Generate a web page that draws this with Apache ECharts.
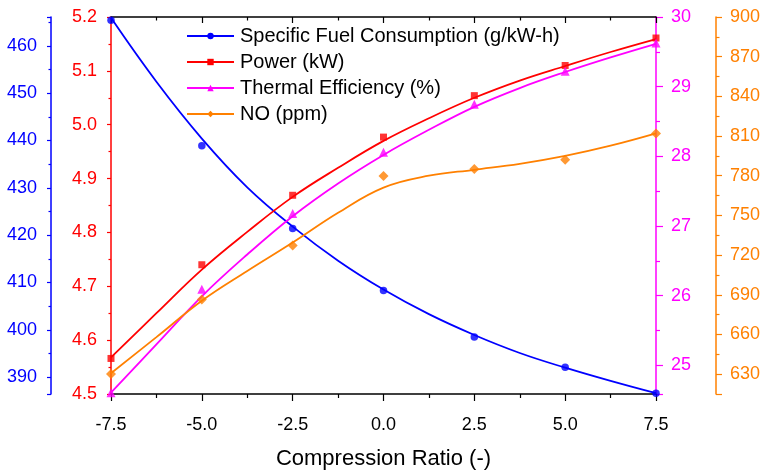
<!DOCTYPE html>
<html>
<head>
<meta charset="utf-8">
<script src="https://cdn.jsdelivr.net/npm/echarts@6/dist/echarts.min.js"></script>
<style>
  html, body { margin: 0; padding: 0; background: #fff; }
  #chart { width: 764px; height: 475px; }
</style>
</head>
<body>
<div id="chart"></div>
<script>
// measured points
const xPoints = [-7.5, -5, -2.5, 0, 2.5, 5, 7.5];
const sfcPoints = [465.4, 438.9, 421.4, 408.3, 398.5, 392.1, 386.6];
const powerPoints = [4.566, 4.740, 4.869, 4.977, 5.054, 5.110, 5.161];
const effPoints = [24.606, 26.09, 27.179, 28.058, 28.746, 29.221, 29.625];
const noPoints = [630.2, 686.5, 727.2, 779.8, 785, 792, 812];

// fitted curves
const xCurve = [-7.5, -6.25, -5, -3.75, -2.5, -1.25, 0, 1.25, 2.5, 3.75, 5, 6.25, 7.5];
const sfcCurve = [465.9, 452.4, 440.4, 430.1, 421.8, 414.6, 408.5, 403.3, 398.9, 395.1, 392.0, 389.2, 386.6];
const powerCurve = [4.568, 4.650, 4.731, 4.801, 4.866, 4.920, 4.970, 5.012, 5.050, 5.082, 5.109, 5.135, 5.159];
const effCurve = [24.606, 25.30, 25.99, 26.59, 27.14, 27.61, 28.02, 28.38, 28.71, 28.98, 29.21, 29.42, 29.615];
const noCurve = [630.7, 658, 685.5, 708, 729.5, 752, 771, 780, 784.5, 789, 795, 802.7, 812];

const names = [
  "Specific Fuel Consumption (g/kW-h)",
  "Power (kW)",
  "Thermal Efficiency (%)",
  "NO (ppm)"
];
const colors = ["#0000ff", "#ff0000", "#ff00ff", "#ff8000"];
const symbols = ["circle", "rect", "triangle", "diamond"];
const symbolSizes = [7.5, 7, 9, 10];

const FONT = "Liberation Sans, Arial, sans-serif";

function pairs(xs, ys) {
  return xs.map((x, i) => [x, ys[i]]);
}

function yAxis(color, opts) {
  return Object.assign({
    type: "value",
    splitLine: { show: false },
    axisLine: { show: true, onZero: false, lineStyle: { color: color, width: 1.5 } },
    axisTick: { show: true, length: 4, lineStyle: { color: color, width: 1.2 } },
    minorTick: { show: true, splitNumber: 2, length: 2.5, lineStyle: { color: color, width: 1.2 } },
    axisLabel: { color: color, fontSize: 18, fontFamily: FONT, margin: 14 }
  }, opts);
}

const chart = echarts.init(document.getElementById("chart"), null, { renderer: "canvas" });

const series = [];
const curves = [sfcCurve, powerCurve, effCurve, noCurve];
const points = [sfcPoints, powerPoints, effPoints, noPoints];
names.forEach((name, i) => {
  series.push({
    name: name,
    type: "line",
    yAxisIndex: i,
    data: pairs(xCurve, curves[i]),
    smooth: 0.4,
    showSymbol: false,
    symbol: symbols[i],
    clip: false,
    color: colors[i],
    lineStyle: { color: colors[i], width: 1.8 },
    z: 2
  });
});
names.forEach((name, i) => {
  series.push({
    name: name,
    type: "scatter",
    yAxisIndex: i,
    data: pairs(xPoints, points[i]),
    symbol: symbols[i],
    symbolSize: symbolSizes[i],
    clip: false,
    itemStyle: { color: colors[i] },
    z: 3
  });
});

const option = {
  animation: false,
  backgroundColor: "#fff",
  grid: { left: 111, right: 108, top: 17, bottom: 78, containLabel: false },
  legend: {
    data: names,
    orient: "vertical",
    left: 186,
    top: 26,
    padding: 0,
    itemWidth: 47,
    itemHeight: 8,
    itemGap: 6,
    textStyle: { color: "#000", fontSize: 20, fontFamily: FONT, padding: [0, 0, 0, 1] }
  },
  xAxis: [
    {
      type: "value",
      min: -7.5,
      max: 7.5,
      interval: 2.5,
      position: "bottom",
      name: "Compression Ratio (-)",
      nameLocation: "middle",
      nameGap: 54,
      nameTextStyle: { color: "#000", fontSize: 22, fontFamily: FONT },
      splitLine: { show: false },
      axisLine: { onZero: false, lineStyle: { color: "#000", width: 1.5 } },
      axisTick: { length: 7, lineStyle: { color: "#000", width: 1.2 } },
      minorTick: { show: true, splitNumber: 2, length: 4, lineStyle: { color: "#000", width: 1.2 } },
      axisLabel: {
        color: "#000", fontSize: 18, fontFamily: FONT, margin: 22,
        formatter: v => v.toFixed(1)
      }
    },
    {
      type: "value",
      min: -7.5,
      max: 7.5,
      interval: 2.5,
      position: "top",
      splitLine: { show: false },
      axisLine: { onZero: false, lineStyle: { color: "#000", width: 1.5 } },
      axisTick: { inside: true, length: 6, lineStyle: { color: "#000", width: 1.2 } },
      minorTick: { show: true, splitNumber: 2, length: 3.5, lineStyle: { color: "#000", width: 1.2 } },
      axisLabel: { show: false }
    }
  ],
  yAxis: [
    yAxis(colors[0], {
      position: "left", offset: 60,
      min: 386.437, max: 466.078, splitNumber: 7,
      axisLabel: { color: colors[0], fontSize: 18, fontFamily: FONT, margin: 14, showMinLabel: false, showMaxLabel: false }
    }),
    yAxis(colors[1], {
      position: "left", offset: 0,
      min: 4.5, max: 5.2, interval: 0.1,
      axisLabel: { color: colors[1], fontSize: 18, fontFamily: FONT, margin: 14, formatter: v => v.toFixed(1) }
    }),
    yAxis(colors[2], {
      position: "right", offset: 0,
      min: 24.587, max: 30, splitNumber: 5,
      axisTick: { show: true, length: 7, lineStyle: { color: colors[2], width: 1.2 } },
      minorTick: { show: true, splitNumber: 2, length: 4, lineStyle: { color: colors[2], width: 1.2 } },
      axisLabel: { color: colors[2], fontSize: 18, fontFamily: FONT, margin: 15, showMinLabel: false }
    }),
    yAxis(colors[3], {
      position: "right", offset: 60,
      min: 615, max: 900, splitNumber: 9,
      axisTick: { show: true, length: 6, lineStyle: { color: colors[3], width: 1.2 } },
      minorTick: { show: true, splitNumber: 2, length: 3.5, lineStyle: { color: colors[3], width: 1.2 } },
      axisLabel: { color: colors[3], fontSize: 18, fontFamily: FONT, margin: 14, showMinLabel: false }
    })
  ],
  series: series
};

chart.setOption(option);
</script>
</body>
</html>
